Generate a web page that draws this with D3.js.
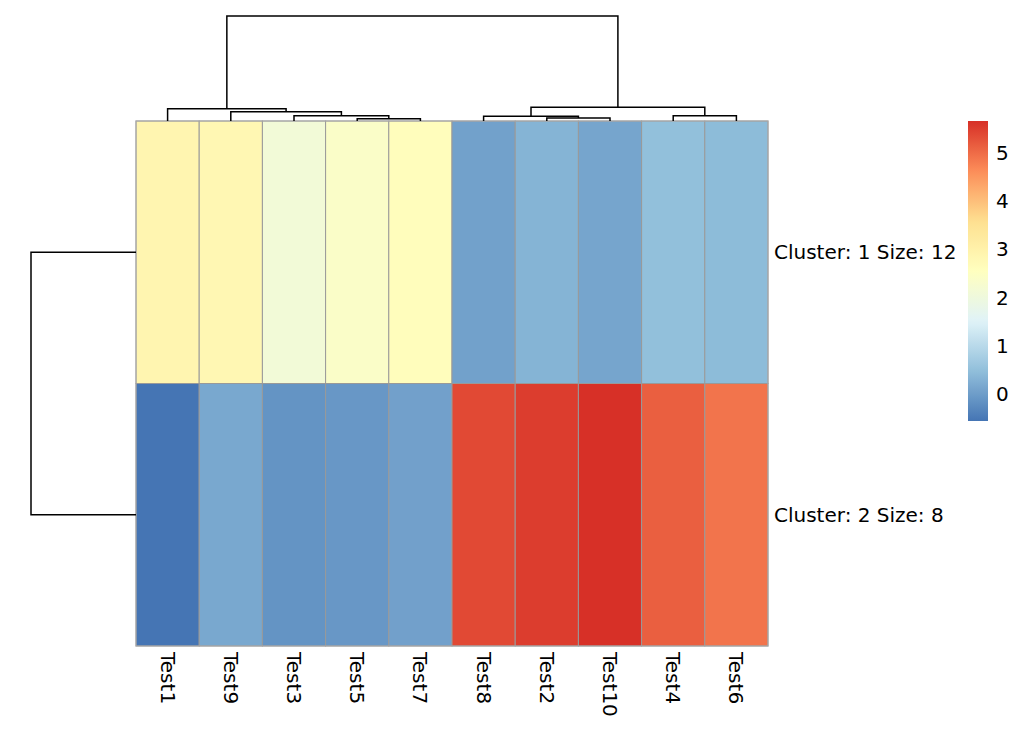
<!DOCTYPE html>
<html>
<head>
<meta charset="utf-8">
<script src="https://cdn.jsdelivr.net/npm/d3@7"></script>
<style>
  body { margin: 0; background: #fff; }
  text { font-family: "DejaVu Sans", sans-serif; fill: #000; }
</style>
</head>
<body>
<svg id="chart" width="1033" height="739"></svg>
<script>
// ---- data ----
const columns = ["Test1","Test9","Test3","Test5","Test7","Test8","Test2","Test10","Test4","Test6"];
const rowLabels = ["Cluster: 1 Size: 12", "Cluster: 2 Size: 8"];
const cluster1 = [2.88, 2.82, 2.12, 2.40, 2.62, 0.06, 0.32, 0.11, 0.49, 0.43];
const cluster2 = [-0.56, 0.15, -0.13, -0.08, 0.05, 5.39, 5.52, 5.67, 5.15, 4.91];
// column linkage (scipy style): [left, right, height]; leaves 0..9 in display order
const colLinkage = [
  [3, 4, 0.46],
  [6, 7, 0.60],
  [5, 11, 0.94],
  [2, 10, 1.06],
  [8, 9, 1.06],
  [1, 13, 1.86],
  [0, 15, 2.46],
  [12, 14, 2.74],
  [16, 17, 21.0]
];
// row linkage
const rowLinkage = [[0, 1, 10.0]];
const colorbarTicks = [0, 1, 2, 3, 4, 5];
// reversed 7-class RdYlBu
const paletteColors = ["#4575b4","#91bfdb","#e0f3f8","#ffffbf","#fee090","#fc8d59","#d73027"];

// ---- layout ----
const svg = d3.select("#chart");
const hm = { x0: 136, x1: 768, y0: 121, y1: 646 };
const matrix = [cluster1, cluster2];

const x = d3.scaleBand().domain(d3.range(columns.length)).range([hm.x0, hm.x1]);
const y = d3.scaleBand().domain(d3.range(rowLabels.length)).range([hm.y0, hm.y1]);

const allVals = matrix.flat();
const [vmin, vmax] = d3.extent(allVals);
const color = d3.scaleLinear()
  .domain(paletteColors.map((c, i) => vmin + (vmax - vmin) * i / (paletteColors.length - 1)))
  .range(paletteColors)
  .interpolate(d3.interpolateRgb)
  .clamp(true);

// cells
const cells = [];
matrix.forEach((row, r) => row.forEach((v, c) => cells.push({ r, c, v })));
svg.append("g").selectAll("rect").data(cells).join("rect")
  .attr("x", d => x(d.c))
  .attr("y", d => y(d.r))
  .attr("width", x.bandwidth())
  .attr("height", y.bandwidth())
  .attr("fill", d => color(d.v))
  .attr("stroke", "#999")
  .attr("stroke-width", 1);
svg.append("rect")
  .attr("x", hm.x0).attr("y", hm.y0)
  .attr("width", hm.x1 - hm.x0).attr("height", hm.y1 - hm.y0)
  .attr("fill", "none").attr("stroke", "#aaa").attr("stroke-width", 1);

// column labels
svg.append("g").selectAll("text").data(columns).join("text")
  .attr("transform", (d, i) => `translate(${x(i) + x.bandwidth() / 2},${hm.y1 + 6}) rotate(90)`)
  .attr("text-anchor", "start")
  .attr("dominant-baseline", "central")
  .style("font-size", "20px")
  .text(d => d);

// row labels
svg.append("g").selectAll("text").data(rowLabels).join("text")
  .attr("x", hm.x1 + 6)
  .attr("y", (d, i) => y(i) + y.bandwidth() / 2)
  .attr("dominant-baseline", "central")
  .style("font-size", "20px")
  .text(d => d);

// ---- dendrograms ----
function buildNodes(linkage, nLeaves, leafPos) {
  const nodes = [];
  for (let i = 0; i < nLeaves; i++) nodes.push({ pos: leafPos(i), h: 0 });
  linkage.forEach(([a, b, h]) => {
    nodes.push({ pos: (nodes[a].pos + nodes[b].pos) / 2, h, a, b });
  });
  return nodes;
}

// column dendrogram (top)
const colNodes = buildNodes(colLinkage, columns.length, i => x(i) + x.bandwidth() / 2);
const colH = d3.scaleLinear().domain([0, d3.max(colLinkage, d => d[2])]).range([hm.y0, 16]);
const gCol = svg.append("g").attr("fill", "none").attr("stroke", "#000").attr("stroke-width", 1.5);
colNodes.forEach(n => {
  if (n.a === undefined) return;
  const A = colNodes[n.a], B = colNodes[n.b];
  gCol.append("path").attr("d",
    `M${A.pos},${colH(A.h)}V${colH(n.h)}H${B.pos}V${colH(B.h)}`);
});

// row dendrogram (left)
const rowNodes = buildNodes(rowLinkage, rowLabels.length, i => y(i) + y.bandwidth() / 2);
const rowH = d3.scaleLinear().domain([0, d3.max(rowLinkage, d => d[2])]).range([hm.x0, 31]);
const gRow = svg.append("g").attr("fill", "none").attr("stroke", "#000").attr("stroke-width", 1.5);
rowNodes.forEach(n => {
  if (n.a === undefined) return;
  const A = rowNodes[n.a], B = rowNodes[n.b];
  gRow.append("path").attr("d",
    `M${rowH(A.h)},${A.pos}H${rowH(n.h)}V${B.pos}H${rowH(B.h)}`);
});

// ---- colorbar ----
const cb = { x: 968, y0: 121, y1: 421, w: 20 };
const defs = svg.append("defs");
const grad = defs.append("linearGradient").attr("id", "cbgrad")
  .attr("x1", 0).attr("y1", 1).attr("x2", 0).attr("y2", 0);
d3.range(0, 1.0001, 0.02).forEach(t => {
  grad.append("stop").attr("offset", t).attr("stop-color", color(vmin + t * (vmax - vmin)));
});
svg.append("rect").attr("x", cb.x).attr("y", cb.y0)
  .attr("width", cb.w).attr("height", cb.y1 - cb.y0)
  .attr("fill", "url(#cbgrad)");
const cbScale = d3.scaleLinear().domain([vmin, vmax]).range([cb.y1, cb.y0]);
const cbAxis = d3.axisRight(cbScale).tickValues(colorbarTicks).tickSize(0).tickPadding(8).tickFormat(d3.format("d"));
const gAxis = svg.append("g").attr("transform", `translate(${cb.x + cb.w},0)`).call(cbAxis);
gAxis.select(".domain").remove();
gAxis.selectAll("text").style("font-size", "20px").style("font-family", "DejaVu Sans, sans-serif").attr("fill", "#000");
</script>
</body>
</html>
